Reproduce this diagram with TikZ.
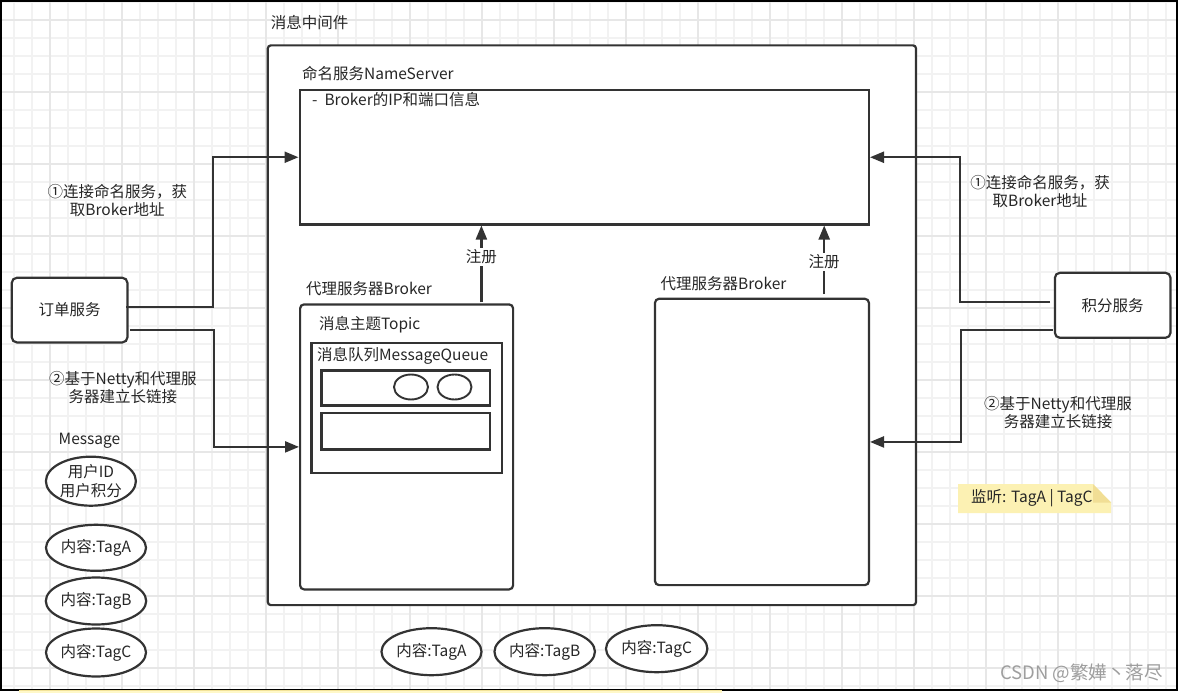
\documentclass[tikz,border=0pt]{standalone}
\usepackage{fontspec}
\setmainfont{Noto Sans CJK SC}
\usetikzlibrary{shapes.geometric,arrows.meta}
\definecolor{ln}{HTML}{333333}
\definecolor{txtc}{HTML}{262626}
\definecolor{gridthin}{HTML}{F2F2F2}
\definecolor{gridthick}{HTML}{E7E7E7}
\definecolor{notefill}{HTML}{FCF1B3}
\definecolor{notefold}{HTML}{F1DE95}
\definecolor{stripc}{HTML}{FFF8C8}
\definecolor{stripline}{HTML}{F3E39A}
\begin{document}
\begin{tikzpicture}[x=1pt,y=-1pt,
  box/.style={draw=ln, line width=2.2pt, fill=white, inner sep=0pt, anchor=north west},
  rbox/.style={box, rounded corners=4pt},
  lbl/.style={font=\fontsize{15.5}{18.5}\selectfont, text=txtc, inner sep=0pt, align=center},
  tag/.style={ellipse, draw=ln, line width=2.2pt, fill=white, inner sep=0pt, lbl},
  conn/.style={draw=ln, line width=2.2pt, -{Triangle[length=14pt,width=11pt]}},
  reglbl/.style={lbl, fill=white, inner sep=1.5pt},
  gthin/.style={draw=gridthin, line width=1.6pt},
  gthick/.style={draw=gridthick, line width=2pt}
  ]
% background and bounding box
\fill[white] (0,0) rectangle (1179,693);
\useasboundingbox (0,0) rectangle (1179,693);
% grid
\begin{scope}
\clip (1,1) rectangle (1177,690);
\foreach \x in {14,32,...,1176} \draw[gthin] (\x,1) -- (\x,690);
\foreach \y in {2,20,...,690} \draw[gthin] (1,\y) -- (1177,\y);
\foreach \x in {50,122,...,1176} \draw[gthick] (\x,1) -- (\x,690);
\foreach \y in {20,92,...,690} \draw[gthick] (1,\y) -- (1177,\y);
\end{scope}
% frame and strip
\draw[black, line width=1.5pt] (1,1) rectangle (1177,690);
\fill[stripc] (19,689.8) rectangle (722,693);
\draw[stripline, line width=0.8pt] (19,690.2) -- (722,690.2);

% middleware container
\node[lbl, anchor=west] (title) at (270.6,22.7) {消息中间件};
\node[box, rounded corners=3pt, minimum width=648.2pt, minimum height=559.7pt] (outer) at (266.7,44.3) {};

% NameServer
\node[lbl, anchor=west] (nsl) at (302,73.3) {命名服务NameServer};
\node[box, minimum width=569.3pt, minimum height=134.3pt] (ns) at (298.5,89) {};
\node[lbl, anchor=west] (nsinfo) at (312,99.3) {-\ \ Broker的IP和端口信息};

% Broker 1
\node[lbl, anchor=west] (b1l) at (306,288.3) {代理服务器Broker};
\node[rbox, minimum width=213pt, minimum height=285pt] (b1) at (299,303.3) {};
\node[lbl, anchor=west] (topicl) at (318.8,325) {消息主题Topic};
\node[box, minimum width=190.2pt, minimum height=130pt] (topic) at (310.4,341.7) {};
\node[lbl, anchor=west] (mql) at (316.9,356) {消息队列MessageQueue};
\node[box, minimum width=168.4pt, minimum height=35pt] (q1) at (320.3,369.3) {};
\node[box, minimum width=168.4pt, minimum height=36.6pt] (q2) at (320.3,411.7) {};
\node[ellipse, draw=ln, line width=1.9pt, fill=white, inner sep=0pt, minimum width=34pt, minimum height=25pt] (c1) at (411,387) {};
\node[ellipse, draw=ln, line width=1.9pt, fill=white, inner sep=0pt, minimum width=34pt, minimum height=25pt] (c2) at (454.5,387) {};

% Broker 2
\node[lbl, anchor=west] (b2l) at (660.4,283.3) {代理服务器Broker};
\node[rbox, minimum width=213.9pt, minimum height=286.3pt] (b2) at (653.9,297.7) {};

% services
\node[box, rounded corners=5pt, minimum width=115.6pt, minimum height=64.6pt, lbl, draw=ln, line width=2.2pt, fill=white] (order) at (10.7,276.7) {订单服务};
\node[box, rounded corners=5pt, minimum width=115.6pt, minimum height=65pt, lbl, draw=ln, line width=2.2pt, fill=white] (points) at (1053.8,271.7) {积分服务};

% connectors
\coordinate (o1) at (126.3,306.7);
\coordinate (o2) at (130,330);
\coordinate (p1) at (1050,302.3);
\coordinate (p2) at (1052.6,330);
\draw[conn] (o1) -- (212.8,306.7) |- (ns.west);
\draw[conn] (o2) -- (214.3,330) |- (b1.west);
\draw[conn] (p1) -- (959.6,302.3) |- (ns.east);
\draw[conn] (p2) -- (960.8,330) |- (b2.east);

\coordinate (r1) at (481.4,302.3);
\coordinate (r2) at (824.2,294);
\draw[conn] (r1) -- (r1 |- ns.south) node[reglbl, pos=0.59] (reg1) {注册};
\draw[conn] (r2) -- (r2 |- ns.south) node[reglbl, pos=0.47] (reg2) {注册};

\node[lbl] (lab1) at (117.3,200.5) {①连接命名服务，获\\取Broker地址};
\node[lbl] (lab2) at (122.9,387.5) {②基于Netty和代理服\\务器建立长链接};
\node[lbl] (lab3) at (1040,191.3) {①连接命名服务，获\\取Broker地址};
\node[lbl] (lab4) at (1058,412.8) {②基于Netty和代理服\\务器建立长链接};

% messages
\node[lbl, anchor=west] (msgl) at (58.5,441) {Message};
\node[tag, minimum width=90pt, minimum height=49pt] (msg) at (90.9,481.2) {用户ID\\用户积分};
\node[tag, minimum width=100pt, minimum height=46pt] (ta) at (96,547.8) {内容:TagA};
\node[tag, minimum width=100pt, minimum height=47pt] (tb) at (96,601) {内容:TagB};
\node[tag, minimum width=100pt, minimum height=48pt] (tc) at (96,652.5) {内容:TagC};
\node[tag, minimum width=100pt, minimum height=47pt] (ba) at (431.5,651.7) {内容:TagA};
\node[tag, minimum width=100.5pt, minimum height=47pt] (bb) at (544.7,651.7) {内容:TagB};
\node[tag, minimum width=101.4pt, minimum height=47pt] (bc) at (656.7,648.7) {内容:TagC};

% note
\fill[notefill] (958,484) -- (1093,484) -- (1111,502.5) -- (1111,513) -- (958,513) -- cycle;
\fill[notefold] (1093,484) -- (1111,502.5) -- (1093,502.5) -- cycle;
\node[lbl, anchor=west] (note) at (971,498) {监听: TagA | TagC};

% watermark
\node[font=\fontsize{18.5}{21}\selectfont, text=black!38, inner sep=0pt, anchor=east] (wm) at (1163,673) {CSDN @繁嬅丶落尽};
\end{tikzpicture}
\end{document}
